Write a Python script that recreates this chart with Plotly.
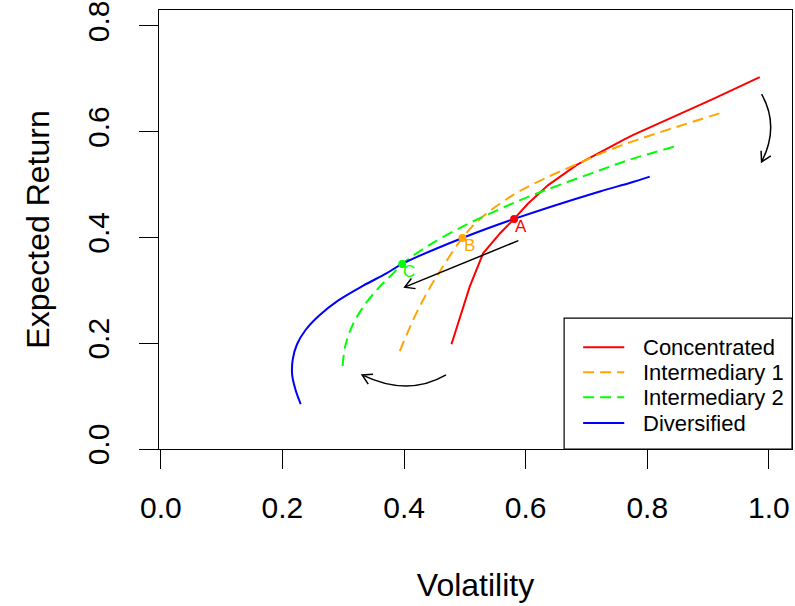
import math
import plotly.graph_objects as go

# ---------------- data ----------------
conc_x = [0.478, 0.508, 0.530, 0.558, 0.581, 0.604, 0.637, 0.684, 0.760, 0.777, 0.905, 0.985]
conc_y = [0.198, 0.307, 0.370, 0.408, 0.435, 0.464, 0.499, 0.537, 0.584, 0.594, 0.660, 0.703]

int1_x = [0.393, 0.415, 0.437, 0.464, 0.496, 0.525, 0.579, 0.634, 0.689, 0.722, 0.777, 0.928]
int1_y = [0.185, 0.244, 0.294, 0.345, 0.399, 0.435, 0.480, 0.513, 0.541, 0.558, 0.582, 0.638]

int2_x = [0.299, 0.303, 0.314, 0.333, 0.360, 0.382, 0.397, 0.442, 0.497, 0.541, 0.590, 0.634, 0.722, 0.771, 0.849]
int2_y = [0.157, 0.193, 0.231, 0.269, 0.307, 0.332, 0.350, 0.386, 0.421, 0.445, 0.470, 0.490, 0.527, 0.547, 0.573]

div_x = [0.230, 0.222, 0.216, 0.217, 0.224, 0.238, 0.260, 0.292, 0.333, 0.371, 0.397, 0.496, 0.581, 0.722, 0.771, 0.804]
div_y = [0.085, 0.110, 0.140, 0.170, 0.198, 0.225, 0.252, 0.281, 0.309, 0.332, 0.350, 0.399, 0.435, 0.487, 0.503, 0.515]

series_names = ["Concentrated", "Intermediary 1", "Intermediary 2", "Diversified"]
series_colors = ["#FF0000", "#FFA500", "#00FF00", "#0000FF"]
series_dash = ["solid", "11px,6px", "11px,6px", "solid"]
series_shape = ["linear", "spline", "spline", "spline"]

point_labels = ["A", "B", "C"]
point_x = [0.581, 0.496, 0.397]
point_y = [0.435, 0.399, 0.350]
point_colors = ["#FF0000", "#FFA500", "#00FF00"]

# arrows: straight (start, end); curved (start, control, end)
straight_arrow = [(0.588, 0.394), (0.401, 0.306)]
curved_bottom = [(0.469, 0.140), (0.406, 0.098), (0.331, 0.140)]
curved_right = [(0.988, 0.671), (1.018, 0.610), (0.988, 0.543)]

x_ticks = [0.0, 0.2, 0.4, 0.6, 0.8, 1.0]
y_ticks = [0.0, 0.2, 0.4, 0.6, 0.8]
x_range = [-0.003, 1.038]
y_range = [0.0, 0.83]

# ---------------- figure ----------------
W, H = 795, 606
ML, MR, MT, MB = 159, 3, 10, 157
PX = (W - ML - MR) / (x_range[1] - x_range[0])
PY = (H - MT - MB) / (y_range[1] - y_range[0])
FONT = "Liberation Sans, Arial, sans-serif"

fig = go.Figure()
xs = [conc_x, int1_x, int2_x, div_x]
ys = [conc_y, int1_y, int2_y, div_y]
for name, x, y, c, d, s in zip(series_names, xs, ys, series_colors, series_dash, series_shape):
    fig.add_trace(go.Scatter(x=x, y=y, mode="lines", name=name, showlegend=False,
                             line=dict(color=c, width=2, dash=d, shape=s, smoothing=1.0)))

fig.add_trace(go.Scatter(x=point_x, y=point_y, mode="markers", showlegend=False,
                         marker=dict(color=point_colors, size=8)))


def head(tip, frm, length=11, ang=30):
    tx, ty = tip[0] * PX, tip[1] * PY
    fx, fy = frm[0] * PX, frm[1] * PY
    dx, dy = tx - fx, ty - fy
    n = math.hypot(dx, dy)
    dx, dy = dx / n, dy / n
    pts = []
    for s in (1, -1):
        a = math.radians(ang) * s
        rx = dx * math.cos(a) - dy * math.sin(a)
        ry = dx * math.sin(a) + dy * math.cos(a)
        pts.append(((tx - length * rx) / PX, (ty - length * ry) / PY))
    return pts


def arrow_path(p0, p1, ctrl=None):
    if ctrl is None:
        body = f"M {p0[0]},{p0[1]} L {p1[0]},{p1[1]}"
        h = head(p1, p0)
    else:
        body = f"M {p0[0]},{p0[1]} Q {ctrl[0]},{ctrl[1]} {p1[0]},{p1[1]}"
        h = head(p1, ctrl)
    body += f" M {h[0][0]},{h[0][1]} L {p1[0]},{p1[1]} L {h[1][0]},{h[1][1]}"
    return body


shapes = []
for path in [arrow_path(straight_arrow[0], straight_arrow[1]),
             arrow_path(curved_bottom[0], curved_bottom[2], curved_bottom[1]),
             arrow_path(curved_right[0], curved_right[2], curved_right[1])]:
    shapes.append(dict(type="path", path=path, xref="x", yref="y",
                       line=dict(color="black", width=1.5)))

annotations = []
for lab, x, y, c in zip(point_labels, point_x, point_y, point_colors):
    annotations.append(dict(x=x, y=y, xref="x", yref="y", text=lab, showarrow=False,
                            xanchor="center", yanchor="middle", xshift=7, yshift=-8,
                            font=dict(family=FONT, size=17, color=c)))

# manual legend (R style)
shapes.append(dict(type="rect", xref="paper", yref="paper", x0=0.640, x1=1.0, y0=0.0, y1=0.298,
                   line=dict(color="black", width=1.2), fillcolor="white", layer="above"))
leg_rows = [0.232, 0.175, 0.118, 0.059]
for name, c, d, yy in zip(series_names, series_colors, series_dash, leg_rows):
    shapes.append(dict(type="line", xref="paper", yref="paper", x0=0.670, x1=0.735, y0=yy, y1=yy,
                       line=dict(color=c, width=2, dash=d), layer="above"))
    annotations.append(dict(xref="paper", yref="paper", x=0.762, y=yy, text=name, showarrow=False,
                            xanchor="left", yanchor="middle",
                            font=dict(family=FONT, size=22, color="black")))

axis_common = dict(showline=True, mirror=True, linecolor="black", linewidth=1.2,
                   ticks="outside", ticklen=19, tickwidth=1.2, tickcolor="black",
                   showgrid=False, zeroline=False, ticklabeloverflow="allow", automargin=False,
                   tickfont=dict(family=FONT, size=30, color="black"),
                   title_font=dict(family=FONT, size=32, color="black"))

fig.update_layout(
    width=W, height=H,
    margin=dict(l=ML, r=MR, t=MT, b=MB, pad=0, autoexpand=False),
    paper_bgcolor="white", plot_bgcolor="white",
    shapes=shapes, annotations=annotations,
    xaxis=dict(range=x_range, tickvals=x_ticks, ticktext=[f"{v:.1f}" for v in x_ticks],
               ticklabelstandoff=13, title=dict(text="Volatility", standoff=50), **axis_common),
    yaxis=dict(range=y_range, tickvals=y_ticks, ticktext=[f"{v:.1f}" for v in y_ticks],
               tickangle=-90, ticklabelstandoff=18,
               title=dict(text="Expected Return", standoff=22), **axis_common),
)

fig.write_html("out.html", config={"displayModeBar": False},
               post_script="document.body.style.margin='0';document.body.style.overflow='hidden';")
